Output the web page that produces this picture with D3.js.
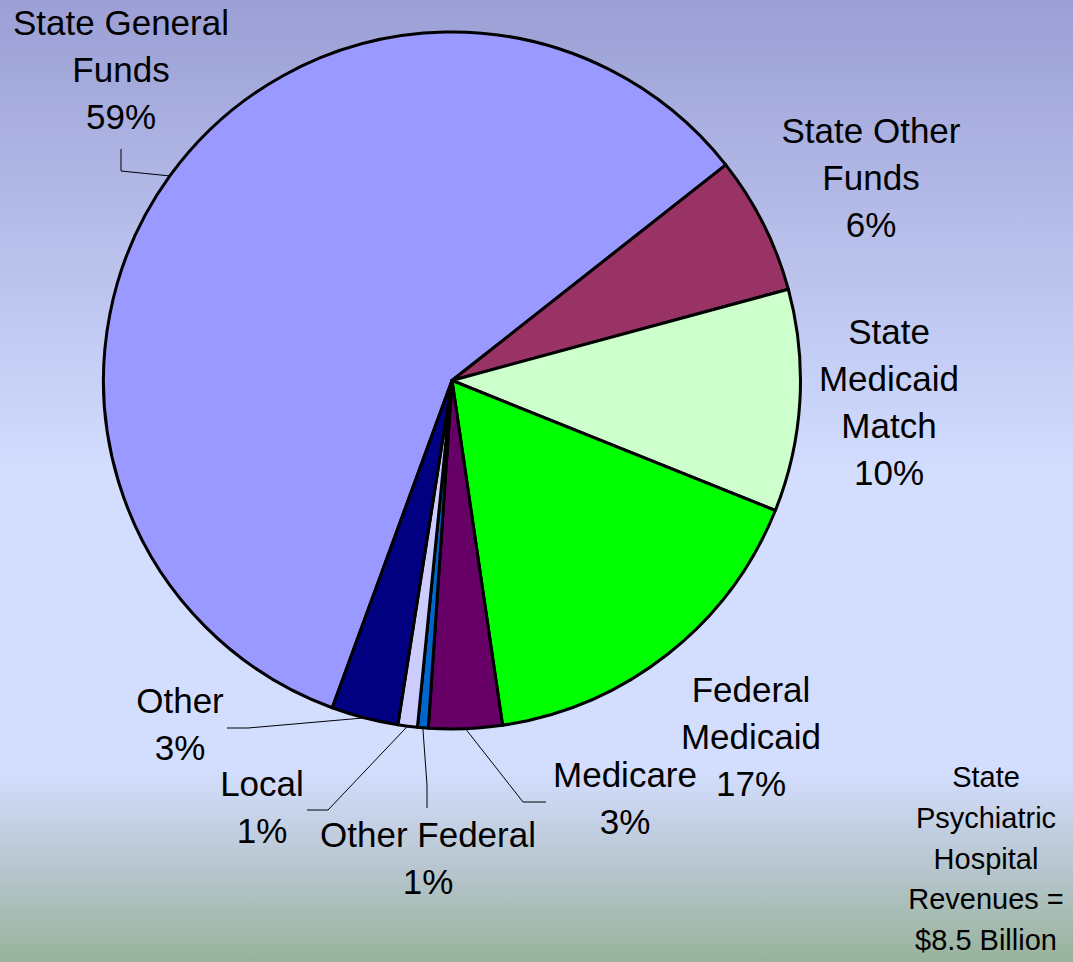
<!DOCTYPE html>
<html>
<head>
<meta charset="utf-8">
<script src="https://cdn.jsdelivr.net/npm/d3@7"></script>
<style>
  html, body { margin: 0; padding: 0; }
  svg { display: block; }
  text { font-family: "Liberation Sans", Arial, sans-serif; fill: #000; }
</style>
</head>
<body>
<svg id="chart" width="1073" height="962"></svg>
<script>
const W = 1073, H = 962;

// data
const categories = ["State General Funds", "State Other Funds", "State Medicaid Match",
  "Federal Medicaid", "Medicare", "Other Federal", "Local", "Other"];
const shares = [58.8, 6.4, 10.3, 16.6, 3.4, 0.5, 0.9, 3.1];
const labelLines = [["State General", "Funds"], ["State Other", "Funds"], ["State", "Medicaid", "Match"],
  ["Federal", "Medicaid"], ["Medicare"], ["Other Federal"], ["Local"], ["Other"]];
const noteLines = ["State", "Psychiatric", "Hospital", "Revenues =", "$8.5 Billion"];

const colors = ["#9999ff", "#993366", "#ccffcc", "#00ff00", "#660066", "#0066cc", "#ccccff", "#000080"];

// label placement: center x, first baseline, optional leader elbow/end points
const layout = [
  { x: 121, y: 35, leader: [[121, 171], [121, 149]] },
  { x: 871, y: 143 },
  { x: 889, y: 344 },
  { x: 751, y: 702 },
  { x: 625, y: 787, leader: [[523, 802], [546, 802]] },
  { x: 428, y: 847, leader: [[427, 785], [427, 808]] },
  { x: 262, y: 796, leader: [[328, 810], [307, 810]] },
  { x: 180, y: 713, leader: [[248, 728], [227, 728]] }
];

const cx = 452, cy = 380.5, r = 348.5;
const lineH = 47;
const start = 200.1 * Math.PI / 180;

const svg = d3.select("#chart");

const defs = svg.append("defs");
const grad = defs.append("linearGradient").attr("id", "bg")
  .attr("x1", 0).attr("y1", 0).attr("x2", 0).attr("y2", 1);
[[0, "#9b9fd5"], [0.5, "#d3deff"], [0.8, "#d3deff"], [0.9, "#b8c6d0"], [1, "#98b39b"]]
  .forEach(s => grad.append("stop").attr("offset", s[0]).attr("stop-color", s[1]));

svg.append("rect").attr("width", W).attr("height", H).attr("fill", "url(#bg)");

const pie = d3.pie().sort(null).value(d => d)
  .startAngle(start).endAngle(start + 2 * Math.PI);
const arcs = pie(shares);
const arc = d3.arc().innerRadius(0).outerRadius(r);

const g = svg.append("g").attr("transform", `translate(${cx},${cy})`);

g.selectAll("path.slice")
  .data(arcs)
  .join("path")
  .attr("class", "slice")
  .attr("d", arc)
  .attr("fill", (d, i) => colors[i])
  .attr("stroke", "#000")
  .attr("stroke-width", 3)
  .attr("stroke-linejoin", "round");

// leader lines from slice mid-angle on the rim
const line = d3.line();
arcs.forEach((d, i) => {
  const lay = layout[i];
  if (!lay.leader) return;
  const a = (d.startAngle + d.endAngle) / 2;
  const p0 = [cx + r * Math.sin(a), cy - r * Math.cos(a)];
  svg.append("path")
    .attr("d", line([p0].concat(lay.leader)))
    .attr("fill", "none")
    .attr("stroke", "#000")
    .attr("stroke-width", 1);
});

// labels
arcs.forEach((d, i) => {
  const lay = layout[i];
  const lines = labelLines[i].concat([Math.round(shares[i]) + "%"]);
  const t = svg.append("text")
    .attr("text-anchor", "middle")
    .attr("font-size", 35);
  lines.forEach((s, k) => {
    t.append("tspan").attr("x", lay.x).attr("y", lay.y + k * lineH).text(s);
  });
});

// note
const note = svg.append("text").attr("text-anchor", "middle").attr("font-size", 29);
noteLines.forEach((s, k) => {
  note.append("tspan").attr("x", 986).attr("y", 787 + k * 40.8).text(s);
});
</script>
</body>
</html>
